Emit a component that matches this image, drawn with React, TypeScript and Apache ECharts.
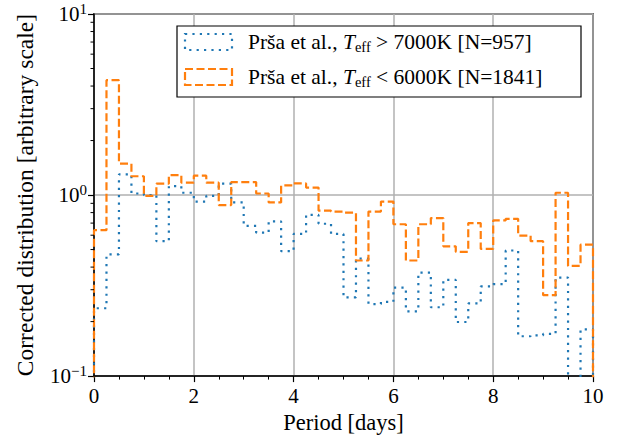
import React, { useEffect, useRef } from "react";
import * as echarts from "echarts";

// ---- data ----
const binWidth = 0.25;
const xMin = 0;
const xMax = 10;
const xTickInterval = 2;

// Prša et al., Teff > 7000K (blue, dotted)
const hotValues = [
  0.237, 0.47, 1.3, 1.02, 1.0, 0.556, 1.12, 1.03, 0.92, 0.99,
  1.155, 0.912, 0.676, 0.62, 0.715, 0.49, 0.61, 0.777, 0.694, 0.61,
  0.272, 0.445, 0.25, 0.257, 0.308, 0.228, 0.373, 0.24, 0.34, 0.199,
  0.252, 0.313, 0.322, 0.494, 0.166, 0.168, 0.171, 0.35, 0, 0.181,
];

// Prša et al., Teff < 6000K (orange, dashed)
const coolValues = [
  0.64, 4.31, 1.49, 1.27, 0.99, 1.155, 1.29, 1.17, 1.28, 1.17,
  0.88, 1.18, 1.18, 1.02, 0.91, 1.13, 1.16, 1.1, 0.82, 0.81,
  0.8, 0.435, 0.81, 0.92, 0.69, 0.435, 0.69, 0.746, 0.521, 0.486,
  0.7, 0.504, 0.724, 0.739, 0.597, 0.556, 0.28, 1.03, 0.406, 0.532,
];

const seriesNames = [
  "Prša et al., Teff > 7000K [N=957]",
  "Prša et al., Teff < 6000K [N=1841]",
];
const legendRich = [
  ["Prša et al., ", "T", "eff", " > 7000K [N=957]"],
  ["Prša et al., ", "T", "eff", " < 6000K [N=1841]"],
];
const seriesColors = ["#1f77b4", "#ff7f0e"];

const yMin = 0.1;
const yMax = 10;
const yMinorTickValues = [
  0.2, 0.3, 0.4, 0.5, 0.6, 0.7, 0.8, 0.9, 2, 3, 4, 5, 6, 7, 8, 9,
];

const xLabel = "Period [days]";
const yLabel = "Corrected distribution [arbitrary scale]";

const FONT = '"Liberation Serif", "DejaVu Serif", serif';
const FLOOR = 0.01; // below the axis minimum, clipped

function stepPoints(values: number[]): number[][] {
  const pts: number[][] = [[xMin, FLOOR]];
  values.forEach((v, i) => {
    const val = v > 0 ? v : FLOOR;
    const x0 = xMin + i * binWidth;
    const x1 = x0 + binWidth;
    pts.push([x0, val]);
    pts.push([x1, val]);
  });
  pts.push([xMin + values.length * binWidth, FLOOR]);
  return pts;
}

export default function App() {
  const ref = useRef<HTMLDivElement>(null);

  useEffect(() => {
    document.body.style.margin = "0";
    if (!ref.current) return;
    const chart = echarts.init(ref.current, undefined, { renderer: "svg" });

    const gridLeft = 94;
    const gridTop = 14;
    const gridW = 499;
    const gridH = 365;

    const legX = 177;
    const legY = 26;
    const rowH = 35;

    const legendGraphics: any[] = [
      {
        type: "rect",
        z: 100,
        shape: { x: legX, y: legY, width: 404, height: 71 },
        style: { fill: "#fff", stroke: "#000", lineWidth: 1.2 },
      },
    ];
    legendRich.forEach((parts, i) => {
      legendGraphics.push({
        type: "rect",
        z: 101,
        shape: { x: legX + 8, y: legY + 8 + i * rowH, width: 47, height: 16 },
        style: {
          fill: "none",
          stroke: seriesColors[i],
          lineWidth: 2.2,
          lineDash: i === 0 ? [2.2, 5.2] : [8, 3.5],
        },
      });
      legendGraphics.push({
        type: "text",
        z: 101,
        x: legX + 71,
        y: legY + 16 + i * rowH,
        style: {
          text: `{a|${parts[0]}}{i|${parts[1]}}{s|${parts[2]}}{a|${parts[3]}}`,
          verticalAlign: "middle",
          align: "left",
          fill: "#000",
          rich: {
            a: { fontFamily: FONT, fontSize: 21.5, lineHeight: 24, fill: "#000" },
            i: { fontFamily: FONT, fontSize: 21.5, fontStyle: "italic", lineHeight: 24, fill: "#000" },
            s: { fontFamily: FONT, fontSize: 14.5, lineHeight: 24, verticalAlign: "bottom", padding: [7, 0, 0, 0], fill: "#000" },
          },
        },
      });
    });

    const option: any = {
      animation: false,
      grid: {
        left: gridLeft,
        top: gridTop,
        width: gridW,
        height: gridH,
        show: true,
        borderColor: "#000",
        borderWidth: 1.5,
        backgroundColor: "transparent",
      },
      xAxis: {
        type: "value",
        min: xMin,
        max: xMax,
        interval: xTickInterval,
        axisLine: { show: true, lineStyle: { color: "#000", width: 1.5 } },
        axisTick: { show: true, length: 6, lineStyle: { color: "#000", width: 1.2 } },
        minorTick: { show: true, splitNumber: 4, length: 3.5, lineStyle: { color: "#000", width: 1 } },
        minorSplitLine: { show: false },
        axisLabel: { color: "#000", fontFamily: FONT, fontSize: 21, margin: 9 },
        splitLine: { show: true, lineStyle: { color: "#b0b0b0", width: 1.5 } },
        name: xLabel,
        nameLocation: "middle",
        nameGap: 32,
        nameTextStyle: { color: "#000", fontFamily: FONT, fontSize: 22.5 },
      },
      yAxis: {
        type: "log",
        logBase: 10,
        min: yMin,
        max: yMax,
        axisLine: { show: true, lineStyle: { color: "#000", width: 1.5 } },
        axisTick: { show: true, length: 6, lineStyle: { color: "#000", width: 1.2 } },
        axisLabel: {
          margin: 7,
          formatter: (v: number) => {
            const e = Math.round(Math.log10(v));
            const s = e < 0 ? "−" + -e : String(e);
            return `{b|10}{s|${s}}`;
          },
          rich: {
            b: { fontFamily: FONT, fontSize: 21, lineHeight: 26, color: "#000" },
            s: { fontFamily: FONT, fontSize: 15, lineHeight: 20, verticalAlign: "top", color: "#000" },
          },
        },
        splitLine: { show: true, lineStyle: { color: "#b0b0b0", width: 1.5 } },
        name: yLabel,
        nameLocation: "middle",
        nameGap: 57,
        nameTextStyle: { color: "#000", fontFamily: FONT, fontSize: 23.5 },
      },
      series: [
        {
          name: seriesNames[0],
          type: "line",
          data: stepPoints(hotValues),
          showSymbol: false,
          symbol: "none",
          clip: true,
          lineStyle: { color: seriesColors[0], width: 2.2, type: [2.2, 5.2], cap: "butt" },
          z: 3,
        },
        {
          name: seriesNames[1],
          type: "line",
          data: stepPoints(coolValues),
          showSymbol: false,
          symbol: "none",
          clip: true,
          lineStyle: { color: seriesColors[1], width: 2.2, type: [8, 3.5], cap: "butt" },
          z: 4,
        },
        {
          type: "custom",
          silent: true,
          clip: false,
          data: yMinorTickValues.map((v) => [xMin, v]),
          renderItem: (_params: any, api: any) => {
            const p = api.coord([api.value(0), api.value(1)]);
            return {
              type: "line",
              shape: { x1: p[0], y1: p[1], x2: p[0] - 3.5, y2: p[1] },
              style: { stroke: "#000", lineWidth: 1 },
            };
          },
          z: 5,
        },
      ],
      graphic: legendGraphics,
    };

    chart.setOption(option);
    return () => chart.dispose();
  }, []);

  return <div ref={ref} style={{ width: 617, height: 439 }} />;
}
